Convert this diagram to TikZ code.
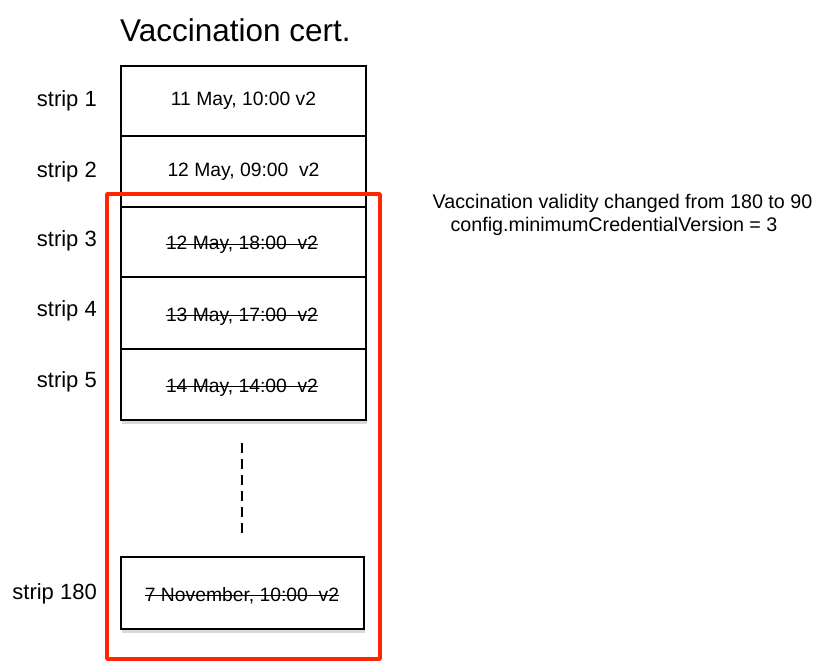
\documentclass[tikz,border=0pt]{standalone}
\usepackage{fontspec}
\setmainfont{Liberation Sans}
\usetikzlibrary{shadows}
\definecolor{redframe}{RGB}{255,38,0}
\begin{document}
\begin{tikzpicture}[x=1pt,y=-1pt,
  cell/.style={draw=black, line width=1.6pt, fill=white, minimum width=245pt,
    inner sep=0pt, font=\fontsize{19.3}{22}\selectfont},
  lastcell/.style={cell, drop shadow={shadow xshift=1pt, shadow yshift=-4pt, opacity=0.3}},
  striplabel/.style={anchor=east, inner sep=0pt, font=\fontsize{22}{24}\selectfont},
  striketext/.style={anchor=base, inner sep=0pt, font=\fontsize{19.3}{22}\selectfont},
  strike/.style={draw=black, line width=1.2pt},
  redbox/.style={draw=redframe, line width=3.4pt, line join=round, line cap=round},
  dots/.style={draw=black, line width=2pt, dash pattern=on 10pt off 6pt},
  note/.style={inner sep=0pt, anchor=base, font=\fontsize{19.7}{23}\selectfont}]
\useasboundingbox (0,0) rectangle (828,666);

% title
\node[inner sep=0pt, anchor=base, font=\fontsize{31.5}{36}\selectfont] (title) at (235.5,41.5) {Vaccination cert.};

% boxes (bottom one first so its shadow lies below)
\node[lastcell, minimum height=71pt] (b5) at (243.5,384.5) {};
\node[cell, minimum height=70pt] (b1) at (243.5,101) {11 May, 10:00 v2};
\node[cell, minimum height=71pt] (b2) at (243.5,171.5) {12 May, 09:00\ \ v2};
\node[cell, minimum height=70pt] (b3) at (243.5,242) {};
\node[cell, minimum height=72pt] (b4) at (243.5,313) {};
\node[lastcell, minimum width=243pt, minimum height=72pt] (b180) at (242.5,593) {};

% struck-out texts
\node[striketext] (t3) at (242,250) {12 May, 18:00\ \ v2};
\node[striketext] (t4) at (242,321) {13 May, 17:00\ \ v2};
\node[striketext] (t5) at (242,392) {14 May, 14:00\ \ v2};
\node[striketext] (t180) at (242,601) {7 November, 10:00\ \ v2};
\foreach \t in {t3,t4,t5,t180}
  \draw[strike] ([yshift=5.5pt]\t.base west) -- ([yshift=5.5pt]\t.base east);

% labels
\node[striplabel] (l1) at (97,101) {strip 1};
\node[striplabel] (l2) at (97,171.5) {strip 2};
\node[striplabel] (l3) at (97,241) {strip 3};
\node[striplabel] (l4) at (97,311) {strip 4};
\node[striplabel] (l5) at (97,382) {strip 5};
\node[striplabel] (l180) at (97,594) {strip 180};

% dashed continuation
\coordinate (d1) at (242,443);
\coordinate (d2) at (242,535);
\draw[dots] (d1) -- (d2);

% red frame
\coordinate (r1) at (107,194);
\coordinate (r2) at (380,659);
\draw[redbox] (r1) rectangle (r2);

% note
\node[note] (n1) at (622.5,208) {Vaccination validity changed from 180 to 90};
\node[note] (n2) at (614,231) {config.minimumCredentialVersion = 3};
\end{tikzpicture}
\end{document}
